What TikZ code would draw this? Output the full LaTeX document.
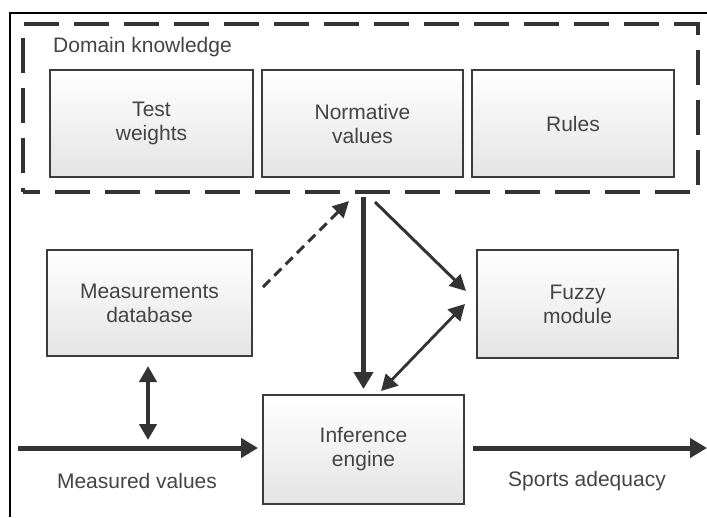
\documentclass[tikz,border=0pt]{standalone}
\usepackage{fontspec}
\setmainfont{Liberation Sans}
\usetikzlibrary{arrows.meta}
\definecolor{boxline}{HTML}{3C3C3C}
\definecolor{boxbot}{HTML}{E4E4E4}
\definecolor{txt}{HTML}{444444}
\definecolor{arr}{HTML}{333333}
\tikzset{
  box/.style={draw=boxline, line width=2pt, top color=white, bottom color=boxbot,
    align=center, text=txt, font=\fontsize{21}{24}\selectfont, inner sep=0pt},
  lbl/.style={text=txt, font=\fontsize{21}{24}\selectfont, inner sep=0pt},
  bigtip/.style={-{Triangle[length=17pt,width=19pt]}},
  midtip/.style={-{Triangle[length=16pt,width=16pt]}},
  dbltip/.style={{Triangle[length=16pt,width=17pt]}-{Triangle[length=16pt,width=17pt]}},
  conn/.style={draw=arr, color=arr}
}
\begin{document}
\begin{tikzpicture}[x=1pt,y=-1pt]
\useasboundingbox (0,0) rectangle (707,517);
% outer frame
\draw[line width=1.6pt, black] (10,517) -- (10,13) -- (707,13);
% domain knowledge group
\node[draw=arr, line width=4pt, dash pattern=on 35pt off 15pt, dash phase=18pt,
      minimum width=675pt, minimum height=168pt, inner sep=0pt] (dk) at (360.5,108) {};
\node[lbl, anchor=west] (dklabel) at (53,47) {Domain knowledge};
\node[box, minimum width=203pt, minimum height=107pt] (tw) at (151.5,123.5) {Test\\weights};
\node[box, minimum width=201pt, minimum height=107pt] (nv) at (362.5,123.5) {Normative\\values};
\node[box, minimum width=202pt, minimum height=107pt] (ru) at (573,123.5) {Rules};
% lower boxes
\node[box, minimum width=205pt, minimum height=106pt] (md) at (149.5,303) {Measurements\\database};
\node[box, minimum width=201pt, minimum height=108pt] (fm) at (577.5,304) {Fuzzy\\module};
\node[box, minimum width=201pt, minimum height=109pt] (ie) at (363.5,449.5) {Inference\\engine};
% labels of the in/out flows
\node[lbl] (mv) at (137,481) {Measured values};
\node[lbl] (sa) at (587,481) {Sports adequacy};
% connector end points
\coordinate (dkdown) at (363.5,197);
\coordinate (dkin) at (349,201);
\coordinate (dkout) at (375,202);
\coordinate (mdout) at (263,287);
\coordinate (fmin) at (466,291);
\coordinate (fmbi) at (465,304);
\coordinate (iebi) at (381,391);
\coordinate (mdbot) at (148,366);
\coordinate (mvjoin) at (148,440);
\coordinate (mvstart) at (18,448);
\coordinate (saend) at (707,448);
% connectors
\draw[conn, line width=4.5pt, bigtip, shorten >=5pt] (dkdown) -- (ie.north);
\draw[conn, line width=3pt, midtip, dash pattern=on 10pt off 6pt] (mdout) -- (dkin);
\draw[conn, line width=3pt, midtip] (dkout) -- (fmin);
\draw[conn, line width=2.8pt, dbltip] (iebi) -- (fmbi);
\draw[conn, line width=4pt, dbltip] (mdbot) -- (mvjoin);
\draw[conn, line width=5pt, bigtip, shorten >=4pt] (mvstart) -- (ie.west |- mvstart);
\draw[conn, line width=5pt, bigtip, shorten <=8pt] (ie.east |- saend) -- (saend);
\end{tikzpicture}
\end{document}
